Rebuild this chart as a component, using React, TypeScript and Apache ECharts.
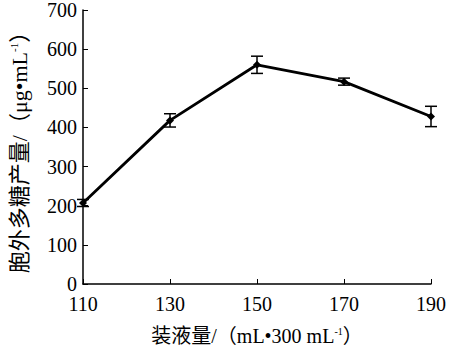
import React, { useEffect, useRef } from "react";
import * as echarts from "echarts";

const categories = ["110", "130", "150", "170", "190"];
const values = [207, 418, 560, 517, 428];
const errors = [9, 17, 22, 9, 26];
const yTicks = { min: 0, max: 700, interval: 100 };

export default function App() {
  const ref = useRef<HTMLDivElement>(null);
  useEffect(() => {
    document.body.style.margin = "0";
    const chart = echarts.init(ref.current!, null, { renderer: "svg" });
    const font = "'Liberation Serif', 'Noto Sans CJK SC', serif";
    const errData = categories.map((c, i) => [i, values[i] - errors[i], values[i] + errors[i]]);
    chart.setOption({
      animation: false,
      backgroundColor: "#fff",
      grid: { left: 78, right: 16, top: 8, bottom: 68 },
      xAxis: {
        type: "category",
        data: categories,
        boundaryGap: false,
        axisLine: { lineStyle: { color: "#000", width: 1.5 } },
        axisTick: { inside: true, length: 5, lineStyle: { color: "#000", width: 1 } },
        axisLabel: { color: "#000", fontSize: 20, fontFamily: font, margin: 10 },
        name: "{a|装液量/（mL•300 mL}{s|-1}{a|）}",
        nameLocation: "middle",
        nameGap: 42,
        nameTextStyle: {
          rich: {
            a: { fontSize: 20, fontFamily: font, color: "#000" },
            s: { fontSize: 10, fontFamily: font, color: "#000", verticalAlign: "top", padding: [0, 0, 8, 0] },
          },
        },
      },
      yAxis: {
        type: "value",
        min: yTicks.min,
        max: yTicks.max,
        interval: yTicks.interval,
        splitLine: { show: false },
        axisLine: { show: true, lineStyle: { color: "#000", width: 1.5 } },
        axisTick: { show: true, inside: true, length: 5, lineStyle: { color: "#000", width: 1 } },
        axisLabel: { color: "#000", fontSize: 20, fontFamily: font, margin: 6 },
        name: "{a|胞外多糖产量/（μg•mL}{s|-1}{a|）}",
        nameLocation: "middle",
        nameGap: 53,
        nameTextStyle: {
          rich: {
            a: { fontSize: 22, fontFamily: font, color: "#000" },
            s: { fontSize: 11, fontFamily: font, color: "#000", verticalAlign: "top", padding: [0, 0, 9, 0] },
          },
        },
      },
      series: [
        {
          type: "line",
          data: values,
          symbol: "diamond",
          symbolSize: 8,
          itemStyle: { color: "#000" },
          lineStyle: { color: "#000", width: 2.8 },
          z: 3,
        },
        {
          type: "custom",
          data: errData,
          z: 4,
          renderItem: (params: any, api: any) => {
            const x = api.value(0);
            const lo = api.coord([x, api.value(1)]);
            const hi = api.coord([x, api.value(2)]);
            const hw = 6;
            const style = { stroke: "#000", lineWidth: 1.5 };
            return {
              type: "group",
              children: [
                { type: "line", shape: { x1: lo[0], y1: lo[1], x2: hi[0], y2: hi[1] }, style },
                { type: "line", shape: { x1: lo[0] - hw, y1: lo[1], x2: lo[0] + hw, y2: lo[1] }, style },
                { type: "line", shape: { x1: hi[0] - hw, y1: hi[1], x2: hi[0] + hw, y2: hi[1] }, style },
              ],
            };
          },
        },
      ],
    });
    return () => chart.dispose();
  }, []);
  return <div ref={ref} style={{ width: 449, height: 352 }} />;
}
